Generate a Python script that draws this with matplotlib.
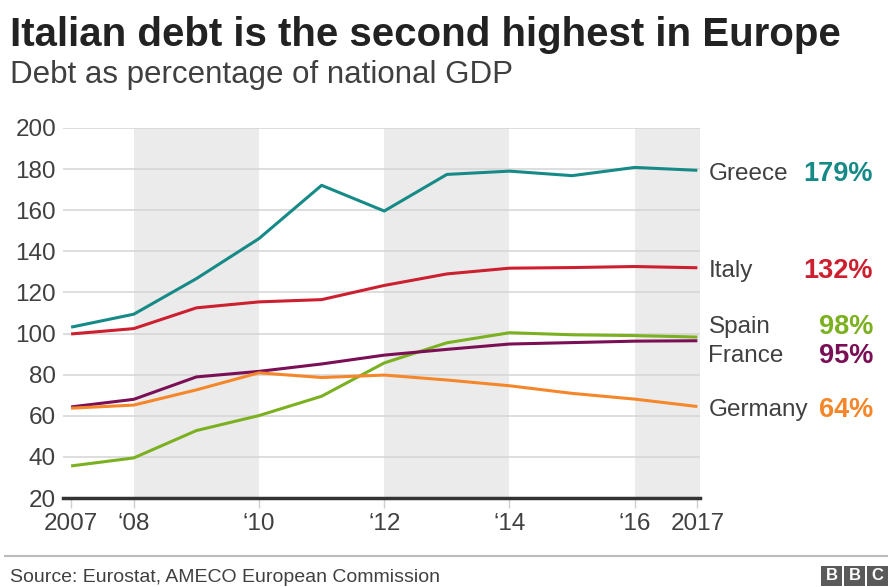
import matplotlib.pyplot as plt
from matplotlib.patches import Rectangle

plt.rcParams['font.family'] = ['Liberation Sans', 'DejaVu Sans']

years = [2007, 2008, 2009, 2010, 2011, 2012, 2013, 2014, 2015, 2016, 2017]

greece  = [103.1, 109.4, 126.7, 146.2, 172.1, 159.6, 177.4, 179.0, 176.8, 180.8, 179.4]
italy   = [99.8, 102.4, 112.5, 115.4, 116.5, 123.4, 129.0, 131.8, 132.1, 132.6, 132.0]
spain   = [35.6, 39.5, 52.8, 60.1, 69.5, 85.7, 95.5, 100.4, 99.4, 99.0, 98.3]
france  = [64.3, 68.0, 78.9, 81.6, 85.2, 89.5, 92.3, 94.9, 95.6, 96.3, 96.5]
germany = [63.7, 65.2, 72.6, 80.9, 78.6, 79.8, 77.4, 74.6, 70.9, 68.1, 64.5]

countries = ['Greece', 'Italy', 'Spain', 'France', 'Germany']
end_labels = ['179%', '132%', '98%', '95%', '64%']
colors = ['#168a86', '#cc1f2f', '#7bb120', '#7a0f55', '#f5872a']

tick_years = [2007, 2008, 2010, 2012, 2014, 2016, 2017]
tick_labels = ['2007', '\u201808', '\u201810', '\u201812', '\u201814', '\u201816', '2017']
y_ticks = [20, 40, 60, 80, 100, 120, 140, 160, 180, 200]
shaded = [(2008, 2010), (2012, 2014), (2016, 2017.05)]

# y position of the right hand labels (spread apart where they would collide)
label_y = [177.8, 130.5, 103, 89, 62.8]

fig = plt.figure(figsize=(8.92, 5.87), dpi=100)
ax = fig.add_axes([0.0706, 0.1516, 0.7147, 0.6304])

for a, b in shaded:
    ax.axvspan(a, b, color='#ebebeb', lw=0, zorder=0)

for y in y_ticks[1:]:
    ax.axhline(y, color='#d4d4d4', lw=1.1, zorder=1)

series = [greece, italy, spain, france, germany]
for vals, c in zip(series, colors):
    ax.plot(years, vals, color=c, lw=2.2, zorder=3, solid_capstyle='butt')

ax.set_xlim(2006.87, 2017.05)
ax.set_ylim(20, 200)
ax.set_yticks(y_ticks)
ax.set_yticklabels([str(v) for v in y_ticks], fontsize=17.5, color='#404040')
ax.set_xticks(tick_years)
ax.set_xticklabels(tick_labels, fontsize=17.5, color='#404040')
ax.tick_params(axis='y', length=0, pad=5)
ax.tick_params(axis='x', length=7, width=1, color='#d0d0d0', pad=4)

for s in ['top', 'right', 'left']:
    ax.spines[s].set_visible(False)
ax.spines['bottom'].set_color('#333333')
ax.spines['bottom'].set_linewidth(2.5)
ax.spines['bottom'].set_zorder(4)

for name, pct, c, ly in zip(countries, end_labels, colors, label_y):
    ax.annotate(name, xy=(1, ly), xycoords=('axes fraction', 'data'),
                xytext=(8, 0), textcoords='offset pixels',
                ha='left', va='center', fontsize=17.5, color='#404040',
                annotation_clip=False)
    ax.annotate(pct, xy=(873 / 892, ly), xycoords=('figure fraction', 'data'),
                ha='right', va='center', fontsize=19.5, fontweight='bold',
                color=c, annotation_clip=False)

fig.text(0.011, 0.94, 'Italian debt is the second highest in Europe',
         fontsize=29, fontweight='bold', color='#222222', va='center')
fig.text(0.011, 0.872, 'Debt as percentage of national GDP',
         fontsize=22.5, color='#404040', va='center')

fig.add_artist(plt.Line2D([0.006, 0.994], [1 - 556 / 587] * 2,
                          color='#bbbbbb', lw=1.5))
fig.text(0.011, 1 - 577 / 587, 'Source: Eurostat, AMECO European Commission',
         fontsize=14, color='#404040', va='center')

for i, letter in enumerate('BBC'):
    x0 = (821 + i * 23) / 892
    fig.add_artist(Rectangle((x0, 1 - 586 / 587), 21 / 892, 20 / 587,
                             transform=fig.transFigure, color='#5a5a5a', lw=0))
    fig.text(x0 + 10.5 / 892, 1 - 576 / 587, letter, color='white',
             fontsize=12, fontweight='bold', ha='center', va='center')

fig.savefig('out.png', dpi=100)
